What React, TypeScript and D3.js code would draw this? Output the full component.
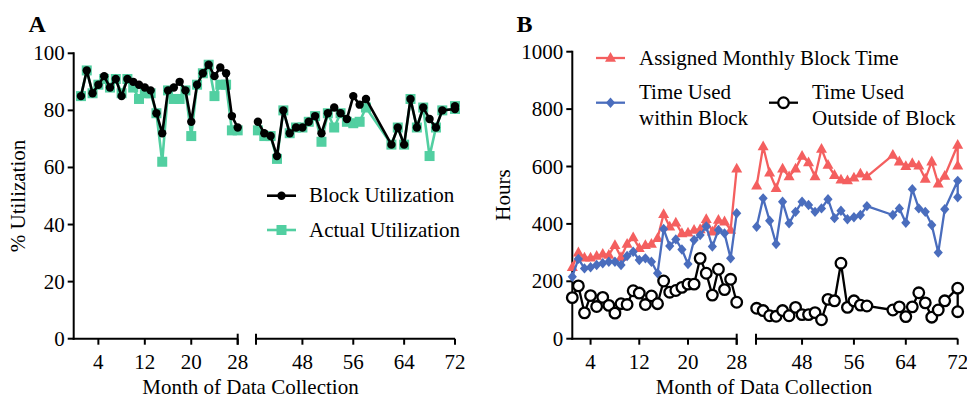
import React from "react";
import * as d3 from "d3";

// ---------- DATA ----------
const monthsLeft = [1, 2, 3, 4, 5, 6, 7, 8, 9, 10, 11, 12, 13, 14, 15, 16, 17, 18, 19, 20, 21, 22, 23, 24, 25, 26, 27, 28];
const monthsRight = [41, 42, 43, 44, 45, 46, 47, 48, 49, 50, 51, 52, 53, 54, 55, 56, 57, 58, 62, 63, 64, 65, 66, 67, 68, 69, 70, 72, 72];

const blockUtilLeft = [85, 94, 86, 89, 92, 88, 91, 85, 91, 90, 89, 88, 87, 79, 72, 87, 88, 90, 87, 76, 89, 93, 96, 92, 95, 93, 78, 74];
const blockUtilRight = [76, 72, 71, 64, 80, 72, 74, 74, 76, 78, 72, 79, 81, 79, 77, 85, 82, 84, 68, 74, 68, 84, 74, 81, 77, 74, 80, 80.5, 81.5];
const actualUtilLeft = [85, 94, 86, 89, 91, 88, 91, 86, 91, 88, 84, 86, 86, 79, 62, 87, 84, 84, 87, 71, 89, 93, 96, 85, 89, 89, 73, 73];
const actualUtilRight = [73, 71, 71, 63, 80, 72, 74, 74, 76, 78, 69, 79, 74, 79, 76, 75.5, 76, 81, 68, 74, 68, 84, 74, 81, 64, 74, 80, 80.5, 81.5];

const assignedLeft = [249, 300, 282, 282, 288, 295, 292, 326, 284, 330, 353, 315, 326, 330, 350, 434, 390, 404, 367, 369, 379, 381, 416, 373, 414, 408, 379, 592];
const assignedRight = [533, 670, 578, 524, 592, 565, 592, 637, 614, 565, 661, 605, 570, 554, 551, 561, 575, 565, 640, 617, 601, 611, 603, 557, 617, 540, 567, 675, 603];
const withinLeft = [216, 278, 245, 249, 257, 263, 268, 268, 257, 288, 303, 274, 280, 268, 228, 382, 323, 346, 311, 260, 344, 361, 391, 321, 379, 367, 280, 437];
const withinRight = [390, 489, 411, 330, 477, 402, 442, 477, 466, 442, 454, 486, 420, 446, 416, 423, 431, 462, 431, 454, 404, 521, 454, 442, 396, 300, 451, 550, 493];
const outsideLeft = [143, 184, 90, 150, 112, 144, 116, 89, 122, 119, 167, 159, 119, 149, 122, 201, 162, 168, 179, 190, 190, 280, 228, 152, 242, 171, 207, 127];
const outsideRight = [106, 98, 80, 78, 98, 80, 109, 84, 84, 91, 66, 137, 132, 263, 109, 132, 117, 114, 100, 111, 77, 111, 160, 125, 75, 100, 132, 176, 94];

const ticksLeft = [4, 12, 20, 28];
const ticksRight = [48, 56, 64, 72];
const yTicksA = [0, 20, 40, 60, 80, 100];
const yTicksB = [0, 200, 400, 600, 800, 1000];

// ---------- STYLE ----------
const FONT = "'Liberation Serif', 'Times New Roman', serif";
const FS = 21;
const TEAL = "#52cfa1";
const RED = "#f45f5f";
const BLUE = "#4a6dbd";

type Seg = { months: number[]; values: number[] };

function LineSeries({ seg, x, y, color, width }: { seg: Seg; x: any; y: any; color: string; width: number }) {
  const pts = seg.months.map((m, i) => [x(m), y(seg.values[i])] as [number, number]);
  const d = d3.line()(pts) || "";
  return <path d={d} fill="none" stroke={color} strokeWidth={width} strokeLinejoin="round" />;
}

function Markers({ seg, x, y, render }: { seg: Seg; x: any; y: any; render: (cx: number, cy: number, key: number) => React.ReactNode }) {
  return <g>{seg.months.map((m, i) => render(x(m), y(seg.values[i]), i))}</g>;
}

const square = (cx: number, cy: number, k: any, color: string, s = 10) => (
  <rect key={k} x={cx - s / 2} y={cy - s / 2} width={s} height={s} fill={color} />
);
const dot = (cx: number, cy: number, k: any, r = 4.2) => <circle key={k} cx={cx} cy={cy} r={r} fill="#000" />;
const tri = (cx: number, cy: number, k: any) => (
  <path key={k} d={`M${cx},${cy - 6}L${cx + 5.5},${cy + 3.8}L${cx - 5.5},${cy + 3.8}Z`} fill={RED} />
);
const diamond = (cx: number, cy: number, k: any) => (
  <path key={k} d={`M${cx},${cy - 5.2}L${cx + 4.6},${cy}L${cx},${cy + 5.2}L${cx - 4.6},${cy}Z`} fill={BLUE} />
);
const ring = (cx: number, cy: number, k: any) => (
  <circle key={k} cx={cx} cy={cy} r={5.3} fill="#fff" stroke="#000" strokeWidth={2.3} />
);

function BrokenAxes({
  xL, xR, y, yTicks, x0, yTop, yBase,
}: { xL: any; xR: any; y: any; yTicks: number[]; x0: number; yTop: number; yBase: number }) {
  const [, l1] = xL.range();
  const [r0, r1] = xR.range();
  return (
    <g stroke="#000" strokeWidth={2} fill="none">
      <line x1={x0} x2={x0} y1={yTop - 1} y2={yBase + 1} />
      {yTicks.map((t) => (
        <line key={"yt" + t} x1={x0 - 6} x2={x0} y1={y(t)} y2={y(t)} />
      ))}
      <line x1={x0 - 1} x2={l1} y1={yBase} y2={yBase} />
      {ticksLeft.map((t) => (
        <line key={"xl" + t} x1={xL(t)} x2={xL(t)} y1={yBase} y2={yBase + 6} />
      ))}
      <line x1={l1} x2={l1} y1={yBase - 5} y2={yBase + 6} />
      <line x1={r0} x2={r1} y1={yBase} y2={yBase} />
      <line x1={r0} x2={r0} y1={yBase - 5} y2={yBase + 6} />
      {ticksRight.map((t) => (
        <line key={"xr" + t} x1={xR(t)} x2={xR(t)} y1={yBase} y2={yBase + 6} />
      ))}
      <g stroke="none" fill="#000" fontFamily={FONT} fontSize={FS}>
        {yTicks.map((t) => (
          <text key={"yl" + t} x={x0 - 9} y={y(t) + 7} textAnchor="end">{t}</text>
        ))}
        {ticksLeft.map((t) => (
          <text key={"xll" + t} x={xL(t)} y={yBase + 30} textAnchor="middle">{t}</text>
        ))}
        {ticksRight.map((t) => (
          <text key={"xrl" + t} x={xR(t)} y={yBase + 30} textAnchor="middle">{t}</text>
        ))}
      </g>
    </g>
  );
}

export default function App() {
  const yA = d3.scaleLinear().domain([0, 100]).range([338.7, 53.3]);
  const xAL = d3.scaleLinear().domain([-0.25, 28]).range([73.7, 237.7]);
  const xAR = d3.scaleLinear().domain([40.7, 72]).range([256, 455]);
  const yB = d3.scaleLinear().domain([0, 1000]).range([338.7, 51.7]);
  const xBL = d3.scaleLinear().domain([1, 28]).range([572.3, 736.7]);
  const xBR = d3.scaleLinear().domain([40.9, 72]).range([756, 957.7]);

  const segsA = [
    { x: xAL, block: { months: monthsLeft, values: blockUtilLeft }, actual: { months: monthsLeft, values: actualUtilLeft } },
    { x: xAR, block: { months: monthsRight, values: blockUtilRight }, actual: { months: monthsRight, values: actualUtilRight } },
  ];
  const segsB = [
    { x: xBL, a: { months: monthsLeft, values: assignedLeft }, w: { months: monthsLeft, values: withinLeft }, o: { months: monthsLeft, values: outsideLeft } },
    { x: xBR, a: { months: monthsRight, values: assignedRight }, w: { months: monthsRight, values: withinRight }, o: { months: monthsRight, values: outsideRight } },
  ];

  return (
    <svg width={967} height={402} style={{ position: "absolute", left: 0, top: 0, background: "#fff" }} fontFamily={FONT}>
      <rect width={967} height={402} fill="#fff" />
      {/* ---------- Panel A ---------- */}
      <text x={28.5} y={32} fontSize={24} fontWeight="bold">A</text>
      <BrokenAxes xL={xAL} xR={xAR} y={yA} yTicks={yTicksA} x0={73.7} yTop={53.3} yBase={338.7} />
      {segsA.map((s, i) => (
        <g key={"at" + i}>
          <LineSeries seg={s.actual} x={s.x} y={yA} color={TEAL} width={2.6} />
          <Markers seg={s.actual} x={s.x} y={yA} render={(cx, cy, k) => square(cx, cy, k, TEAL)} />
        </g>
      ))}
      {segsA.map((s, i) => (
        <g key={"ab" + i}>
          <LineSeries seg={s.block} x={s.x} y={yA} color="#000" width={2.6} />
          <Markers seg={s.block} x={s.x} y={yA} render={(cx, cy, k) => dot(cx, cy, k)} />
        </g>
      ))}
      <text transform="translate(25,196) rotate(-90)" textAnchor="middle" fontSize={FS}>% Utilization</text>
      <text x={250.5} y={394} textAnchor="middle" fontSize={FS}>Month of Data Collection</text>
      <line x1={267} x2={296} y1={195.7} y2={195.7} stroke="#000" strokeWidth={2.6} />
      {dot(281.5, 195.7, "lgA1")}
      <text x={309} y={202} fontSize={FS}>Block Utilization</text>
      <line x1={267} x2={296} y1={230} y2={230} stroke={TEAL} strokeWidth={2.6} />
      {square(281.5, 230, "lgA2", TEAL)}
      <text x={309} y={236.5} fontSize={FS}>Actual Utilization</text>

      {/* ---------- Panel B ---------- */}
      <text x={516.5} y={32} fontSize={24} fontWeight="bold">B</text>
      <BrokenAxes xL={xBL} xR={xBR} y={yB} yTicks={yTicksB} x0={572.3} yTop={51.7} yBase={338.7} />
      {segsB.map((s, i) => (
        <g key={"ba" + i}>
          <LineSeries seg={s.a} x={s.x} y={yB} color={RED} width={2.3} />
          <Markers seg={s.a} x={s.x} y={yB} render={tri} />
        </g>
      ))}
      {segsB.map((s, i) => (
        <g key={"bw" + i}>
          <LineSeries seg={s.w} x={s.x} y={yB} color={BLUE} width={2.3} />
          <Markers seg={s.w} x={s.x} y={yB} render={diamond} />
        </g>
      ))}
      {segsB.map((s, i) => (
        <g key={"bo" + i}>
          <LineSeries seg={s.o} x={s.x} y={yB} color="#000" width={2.3} />
          <Markers seg={s.o} x={s.x} y={yB} render={ring} />
        </g>
      ))}
      <text transform="translate(510,195) rotate(-90)" textAnchor="middle" fontSize={FS}>Hours</text>
      <text x={764} y={394} textAnchor="middle" fontSize={FS}>Month of Data Collection</text>
      <line x1={596} x2={625} y1={58} y2={58} stroke={RED} strokeWidth={2.3} />
      {tri(610.5, 58, "lgB1")}
      <text x={639} y={65} fontSize={FS}>Assigned Monthly Block Time</text>
      <line x1={596} x2={625} y1={102.7} y2={102.7} stroke={BLUE} strokeWidth={2.3} />
      {diamond(610.5, 102.7, "lgB2")}
      <text x={639} y={99} fontSize={FS}>Time Used</text>
      <text x={639} y={125} fontSize={FS}>within Block</text>
      <line x1={769} x2={798} y1={102.7} y2={102.7} stroke="#000" strokeWidth={2.3} />
      {ring(783.5, 102.7, "lgB3")}
      <text x={812} y={99} fontSize={FS}>Time Used</text>
      <text x={812} y={125} fontSize={FS}>Outside of Block</text>
    </svg>
  );
}
